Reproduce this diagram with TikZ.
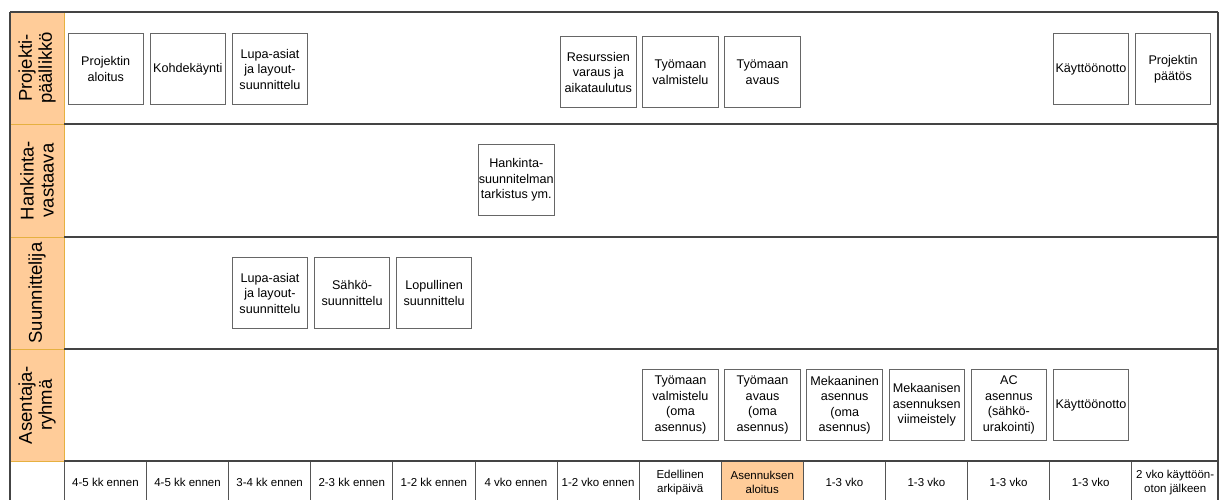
\documentclass[tikz,border=0pt]{standalone}
\usepackage{fontspec}
\setmainfont{Liberation Sans}
\definecolor{hdrfill}{HTML}{FFCC99}
\definecolor{hdrline}{HTML}{E6B040}
\definecolor{laneline}{HTML}{444444}
\definecolor{boxline}{HTML}{666666}
\definecolor{cellline}{HTML}{555555}
\tikzset{
  taskbox/.style={draw=boxline, line width=1pt, fill=white, minimum width=75.5pt, minimum height=71pt,
    inner sep=0pt, anchor=north west, align=center, font=\fontsize{12.6}{15.5}\selectfont},
  hdr/.style={draw=hdrline, line width=1pt, fill=hdrfill},
  hdrtext/.style={rotate=90, align=center, font=\fontsize{18.5}{20}\selectfont},
  cell/.style={draw=cellline, line width=0.8pt, minimum width=82.1pt, minimum height=42pt, inner sep=0pt,
    anchor=north west, align=center, font=\fontsize{11.5}{14}\selectfont},
  lane/.style={draw=laneline, line width=1.6pt},
}
\begin{document}
\begin{tikzpicture}[x=1pt,y=-1pt]
\useasboundingbox (0,0) rectangle (1232,499);
\def\cw{82.1}
% timeline cells
\foreach \i/\t in {0/4-5 kk ennen,1/4-5 kk ennen,2/3-4 kk ennen,3/2-3 kk ennen,4/1-2 kk ennen,5/4 vko ennen,6/1-2 vko ennen,7/{Edellinen\\arkipäivä},9/1-3 vko,10/1-3 vko,11/1-3 vko,12/1-3 vko}{
  \node[cell] (t\i) at ({64+\cw*\i},461) {\t};
}
\node[cell, minimum width=87pt] (t13) at ({64+\cw*13},461) {2 vko käyttöön-\\oton jälkeen};
\node[cell, fill=hdrfill] (t8) at ({64+\cw*8},461) {Asennuksen\\aloitus};
% lane headers
\path[hdr] (10,12) rectangle (64,124);
\path[hdr] (10,124) rectangle (64,237);
\path[hdr] (10,237) rectangle (64,349);
\path[hdr] (10,349) rectangle (64,461);
\node[hdrtext] (h1) at (37,68) {Projekti-\\päällikkö};
\node[hdrtext] (h2) at (37,180.5) {Hankinta-\\vastaava};
\node[hdrtext] (h3) at (37,293) {Suunnittelija};
\node[hdrtext] (h4) at (37,405) {Asentaja-\\ryhmä};
% lane lines
\draw[lane] (10,12) -- (1218,12);
\draw[lane] (64,124) -- (1218,124);
\draw[lane] (64,237) -- (1218,237);
\draw[lane] (64,349) -- (1218,349);
\draw[lane] (64,461) -- (1218,461);
\draw[lane] (10,12) -- (10,500);
\draw[lane] (1218,12) -- (1218,500);
% lane 1
\node[taskbox] (p1) at ({67.5+\cw*0},33) {Projektin\\aloitus};
\node[taskbox] (p2) at ({67.5+\cw*1},33) {Kohdekäynti};
\node[taskbox] (p3) at ({67.5+\cw*2},33) {Lupa-asiat\\ja layout-\\suunnittelu};
\node[taskbox] (p4) at ({67.5+\cw*6},36) {Resurssien\\varaus ja\\aikataulutus};
\node[taskbox] (p5) at ({67.5+\cw*7},36) {Työmaan\\valmistelu};
\node[taskbox] (p6) at ({67.5+\cw*8},36) {Työmaan\\avaus};
\node[taskbox] (p7) at ({67.5+\cw*12},33) {Käyttöönotto};
\node[taskbox] (p8) at ({67.5+\cw*13},33) {Projektin\\päätös};
% lane 2
\node[taskbox] (k1) at ({67.5+\cw*5},144) {Hankinta-\\suunnitelman\\tarkistus ym.};
% lane 3
\node[taskbox] (s1) at ({67.5+\cw*2},257) {Lupa-asiat\\ja layout-\\suunnittelu};
\node[taskbox] (s2) at ({67.5+\cw*3},257) {Sähkö-\\suunnittelu};
\node[taskbox] (s3) at ({67.5+\cw*4},257) {Lopullinen\\suunnittelu};
% lane 4
\node[taskbox] (a1) at ({67.5+\cw*7},369) {Työmaan\\valmistelu\\(oma\\asennus)};
\node[taskbox] (a2) at ({67.5+\cw*8},369) {Työmaan\\avaus\\(oma\\asennus)};
\node[taskbox] (a3) at ({67.5+\cw*9},369) {Mekaaninen\\asennus\\(oma\\asennus)};
\node[taskbox] (a4) at ({67.5+\cw*10},369) {Mekaanisen\\asennuksen\\viimeistely};
\node[taskbox] (a5) at ({67.5+\cw*11},369) {AC\\asennus\\(sähkö-\\urakointi)};
\node[taskbox] (a6) at ({67.5+\cw*12},369) {Käyttöönotto};
\end{tikzpicture}
\end{document}
